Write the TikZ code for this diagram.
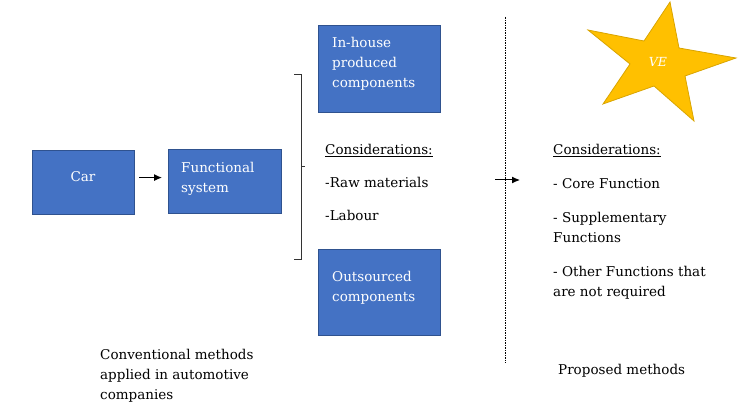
\documentclass[tikz,border=0pt]{standalone}
\usepackage{fontspec}
\setmainfont{DejaVu Serif}
\usetikzlibrary{arrows.meta}
\definecolor{boxfill}{HTML}{4472C4}
\definecolor{boxline}{HTML}{2F528F}
\definecolor{starfill}{HTML}{FFC000}
\definecolor{starline}{HTML}{D9A400}
\tikzset{
  bluebox/.style={draw=boxline, line width=1.2pt, fill=boxfill, anchor=north west},
  boxtext/.style={text=white, font=\fontsize{13.5}{19.7}\selectfont, align=left, anchor=north west, inner sep=0pt},
  plain/.style={text=black, font=\fontsize{13.5}{20}\selectfont, align=left, anchor=north west, inner sep=0pt},
  arr/.style={-{Latex[length=8pt,width=7pt]}, line width=1pt},
}
\begin{document}
\begin{tikzpicture}[x=1pt,y=-1pt]
\useasboundingbox (0,0) rectangle (741,406);
% boxes
\node[bluebox, minimum width=102pt, minimum height=64pt] (car) at (32,150) {};
\node[text=white, font=\fontsize{13.5}{20}\selectfont, inner sep=0pt, anchor=base] (cart) at (83,182) {Car};
\node[bluebox, minimum width=113pt, minimum height=64pt] (func) at (168,149) {};
\node[boxtext] (funct) at (181,159) {\strut Functional\\system};
\node[bluebox, minimum width=122pt, minimum height=87pt] (inh) at (318,25) {};
\node[boxtext] (inht) at (332,34) {\strut In-house\\produced\\components};
\node[bluebox, minimum width=122pt, minimum height=86pt] (out) at (318,249) {};
\node[boxtext] (outt) at (332,268) {\strut Outsourced\\components};
% arrow car -> functional
\draw[arr, shorten <=4pt, shorten >=6pt] ([yshift=5pt]car.east) -- ([yshift=5pt]car.east -| func.west);
% bracket
\coordinate (bt) at (294,74);
\coordinate (bb) at (294,259);
\coordinate (bm) at (305,166);
\draw[line width=0.8pt, draw=black!80] (bt) -- (301,74) -- (301,259) -- (bb);
\draw[line width=0.8pt, draw=black!80] (301,166) -- (bm);
% middle considerations
\node[plain] (c1) at (325,140) {\strut\underline{Considerations:}};
\node[plain] (c2) at (325,173) {\strut -Raw materials};
\node[plain] (c3) at (325,206) {\strut -Labour};
% bottom left text
\node[plain] (conv) at (100,345) {\strut Conventional methods\\applied in automotive\\companies};
% divider
\coordinate (dtop) at (505,17);
\coordinate (dbot) at (505,363);
\draw[line width=0.6pt, dash pattern=on 2pt off 1.2pt on 0.6pt off 1.2pt] (dtop) -- (dbot);
\coordinate (a1) at (495,180);
\coordinate (a2) at (520,180);
\draw[arr] (a1) -- (a2);
% star
\draw[fill=starfill, draw=starline, line width=0.8pt, line join=miter]
  (670,2) -- (679,48) -- (736,58) -- (685,76) -- (694,121) -- (654,86) -- (603,104) -- (630,64) -- (588,30) -- (644,41) -- cycle;
\node[text=white, font=\fontsize{12.5}{14}\selectfont\itshape, inner sep=0pt] (ve) at (658,62) {VE};
% right considerations
\node[plain] (r1) at (553,140) {\strut\underline{Considerations:}};
\node[plain] (r2) at (553,174) {\strut - Core Function};
\node[plain] (r3) at (553,208) {\strut - Supplementary\\Functions};
\node[plain] (r4) at (553,262) {\strut - Other Functions that\\are not required};
\node[plain] (prop) at (558,360) {\strut Proposed methods};
\end{tikzpicture}
\end{document}
